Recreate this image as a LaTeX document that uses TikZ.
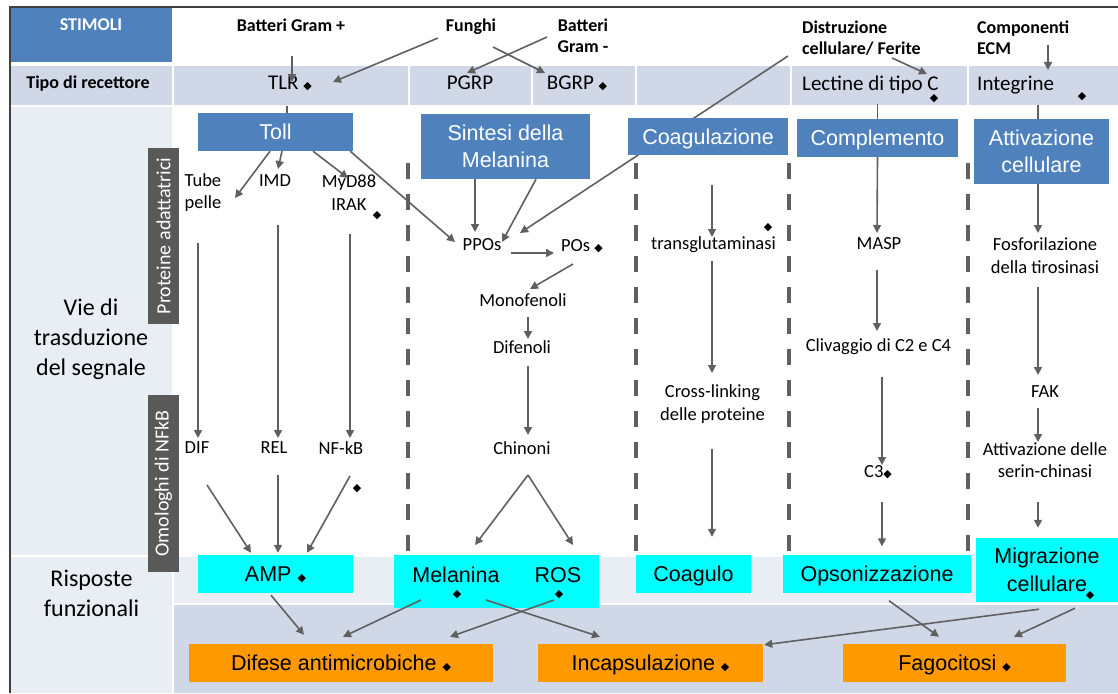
\documentclass[tikz,border=0pt]{standalone}
\usepackage{fontspec}
\setmainfont{Carlito}
\newfontfamily\boxfont{Liberation Sans}
\newfontfamily\dvfont{DejaVu Sans}
\usepackage{tikz}
\usetikzlibrary{arrows.meta}
\definecolor{hdrblue}{HTML}{4F81BD}
\definecolor{rowgrey}{HTML}{D0D8E8}
\definecolor{rowlight}{HTML}{E9EDF4}
\definecolor{respcyan}{HTML}{00FFFF}
\definecolor{effor}{HTML}{FF9900}
\definecolor{labgrey}{HTML}{595959}
\definecolor{arrgrey}{HTML}{606060}
\newcommand{\dm}{{\dvfont\fontsize{11}{11}\selectfont ◆}}

\begin{document}
\begin{tikzpicture}[x=1pt, y=-1pt,
  txt/.style={font=\fontsize{18.5}{22.5}\selectfont, inner sep=1pt, align=center},
  hd/.style={font=\bfseries\fontsize{18}{21}\selectfont, inner sep=1pt, align=center, text depth=0pt},
  rc/.style={font=\fontsize{21}{25}\selectfont, inner sep=1pt, text depth=0pt},
  side/.style={font=\fontsize{24}{30}\selectfont, inner sep=1pt, align=center},
  vlab/.style={fill=labgrey, text=white, rotate=90, font=\fontsize{20}{24}\selectfont, inner sep=0pt, minimum height=31pt},
  pw/.style={fill=hdrblue, text=white, font=\boxfont\fontsize{21.5}{27}\selectfont, align=center, inner sep=0pt, text depth=0pt},
  resp/.style={fill=respcyan, font=\boxfont\fontsize{21.5}{28}\selectfont, align=center, inner sep=0pt, minimum height=38pt, text depth=0pt},
  rtxt/.style={font=\boxfont\fontsize{21.5}{28}\selectfont, inner sep=1pt},
  eff/.style={fill=effor, font=\boxfont\fontsize{21.5}{26}\selectfont, inner sep=0pt, minimum height=38pt, text depth=0pt},
  dmk/.style={inner sep=0pt},
  ar/.style={draw=arrgrey, line width=1.6pt, -{Triangle[length=8pt,width=8pt]}},
  ln/.style={draw=arrgrey, line width=1.6pt},
  sep/.style={draw=arrgrey, line width=4pt, dash pattern=on 16pt off 15pt}
]
\useasboundingbox (0,0) rectangle (1118,693);
% table
\fill[hdrblue] (11,8) rectangle (172,62);
\foreach \xa/\xb in {11/172, 173.5/408, 409.5/530.5, 532.5/634.5, 636.5/790, 791.5/966.5, 968.5/1118}
  \fill[rowgrey] (\xa,65.5) rectangle (\xb,104.5);
\fill[rowlight] (11,106.5) rectangle (172,555);
\fill[rowlight] (11,557) rectangle (172,693);
\fill[rowlight] (174,557) rectangle (1118,603);
\fill[rowgrey] (174,605) rectangle (1118,693);
\draw[black!75, line width=2pt] (1118,7) -- (9.5,7) -- (9.5,693);
\foreach \sx in {408, 636, 789, 968}
  \draw[sep] (\sx,163) -- (\sx,555);

\node[hd, text=white] (stim) at (91,25) {STIMOLI};
\node[hd] (gpos) at (291,25) {Batteri Gram +};
\node[hd] (fung) at (471,25) {Funghi};
\node[hd] (gneg) at (583,35.5) {Batteri\\Gram -};
\node[hd, align=left, anchor=west] (dist) at (801,37.5) {Distruzione\\cellulare/ Ferite};
\node[hd, align=left, anchor=west] (comp) at (976,37.5) {Componenti\\ECM};

\node[hd] (rec) at (88,82) {Tipo di recettore};
\node[rc] (tlr) at (290,83) {TLR \dm};
\node[rc] (pgrp) at (470,83) {PGRP};
\node[rc] (bgrp) at (577,83) {BGRP \dm};
\node[rc, anchor=west] (lect) at (801,83) {Lectine di tipo C};
\node[rc, anchor=west] (integ) at (976,83) {Integrine};
\node[dmk] (dlect) at (934,99) {\dm};
\node[dmk] (dint) at (1082,97) {\dm};

\node[side] (vie) at (91,339) {Vie di\\trasduzione\\del segnale};
\node[side] (risp) at (91.5,593) {Risposte\\funzionali};
\node[vlab, minimum width=176pt] (adat) at (163.5,236) {Proteine adattatrici};
\node[vlab, minimum width=177pt] (omol) at (163.5,483.5) {Omologhi di NFkB};

\node[txt, align=left] (tube) at (203,192.5) {Tube\\pelle};
\node[txt] (imd) at (275,181) {IMD};
\node[txt] (myd) at (349,192.5) {MyD88\\IRAK};
\node[dmk] (dmyd) at (377,216) {\dm};
\node[txt] (dif) at (197,448) {DIF};
\node[txt] (rel) at (274,448) {REL};
\node[txt] (nfkb) at (341,448) {NF-kB};
\node[dmk] (dnf) at (357,489) {\dm};
\node[txt] (ppos) at (482,245) {PPOs};
\node[txt] (pos) at (582,246) {POs \dm};
\node[txt] (mono) at (523,300) {Monofenoli};
\node[txt] (dife) at (522,347) {Difenoli};
\node[txt] (chin) at (522,448) {Chinoni};
\node[txt] (trans) at (713.5,245) {transglutaminasi};
\node[dmk] (dtr) at (768,228) {\dm};
\node[txt] (cross) at (712.5,404) {Cross-linking\\delle proteine};
\node[txt] (masp) at (879,244) {MASP};
\node[txt] (cliv) at (878.5,347) {Clivaggio di C2 e C4};
\node[txt] (c3) at (878,472) {C3\dm};
\node[txt] (fosf) at (1045,255.5) {Fosforilazione\\della tirosinasi};
\node[txt] (fak) at (1045,392) {FAK};
\node[txt] (ser) at (1045,460) {Attivazione delle\\serin-chinasi};

\draw[ar] ([shift={(-13,18.5)}]dist.west) -- ([shift={(38,-12)}]ppos.center);

\node[pw, minimum width=155pt, minimum height=38pt] (toll) at (275.5,132) {Toll};
\node[pw, minimum width=169pt, minimum height=65pt] (sint) at (505.5,146.5) {Sintesi della\\Melanina};
\node[pw, minimum width=160pt, minimum height=37pt] (coag) at (708,136.5) {Coagulazione};
\node[pw, minimum width=161pt, minimum height=38pt] (compl) at (877.5,138) {Complemento};
\node[pw, minimum width=135pt, minimum height=65pt] (attiv) at (1041.5,151.5) {Attivazione\\cellulare};

\node[resp, minimum width=155pt] (amp) at (275.5,574) {AMP \dm};
\node[resp, minimum width=205pt, minimum height=53pt] (mros) at (496.5,581.5) {};
\node[rtxt] (mel) at (456,575) {Melanina};
\node[rtxt] (ros) at (558,575) {ROS};
\node[dmk] (dmel) at (457,595) {\dm};
\node[dmk] (dros) at (559,595) {\dm};
\node[resp, minimum width=115pt] (coagulo) at (693.5,574) {Coagulo};
\node[resp, minimum width=188pt] (opson) at (877,573.5) {Opsonizzazione};
\node[resp, minimum width=142pt, minimum height=64pt] (migr) at (1047,570) {Migrazione\\cellulare};
\node[dmk] (dmig) at (1090,596) {\dm};

\node[eff, minimum width=304pt] (difese) at (341,663) {Difese antimicrobiche \dm};
\node[eff, minimum width=225pt] (inc) at (650.5,663) {Incapsulazione \dm};
\node[eff, minimum width=223pt] (fag) at (954.5,663) {Fagocitosi \dm};

% stimoli -> recettori
\draw[ar] ([shift={(1,31)}]gpos.center) -- ([shift={(2,-1)}]tlr.center);
\draw[ar] ([shift={(-33,13)}]fung.center) -- ([shift={(43,-1)}]tlr.center);
\draw[ar] ([shift={(22,22)}]fung.center) -- ([shift={(-32,-10)}]bgrp.center);
\draw[ar] ([shift={(-36,1.5)}]gneg.center) -- ([shift={(-3,-10)}]pgrp.center);
\draw[ar] ([shift={(91,20.5)}]dist.west) -- ([shift={(126,-9)}]lect.west);
\draw[ar] ([shift={(72,7.5)}]comp.west) -- ([shift={(72,-13)}]integ.west);
\draw[ln] ([shift={(-3,23)}]tlr.center) -- ([xshift=11.5pt]toll.north);
\draw[ln] ([shift={(76.5,21)}]lect.west) -- (compl.north);
\draw[ln] ([shift={(62,22)}]integ.west) -- ([xshift=-3.5pt]attiv.north);

% Toll
\draw[ar] ([xshift=-5.5pt]toll.south) -- ([shift={(32,5.5)}]tube.center);
\draw[ar] ([xshift=6.5pt]toll.south) -- ([shift={(3,-12)}]imd.center);
\draw[ar] ([xshift=37.5pt]toll.south) -- ([shift={(-1,-14.5)}]myd.center);
\draw[ar] ([xshift=-3pt]toll.south east) -- ([shift={(-27,-3)}]ppos.center);
\draw[ar] ([shift={(-5,50.5)}]tube.center) -- ([shift={(1,-10)}]dif.center);
\draw[ar] ([shift={(3,44)}]imd.center) -- ([shift={(4,-10)}]rel.center);
\draw[ar] ([shift={(1,41.5)}]myd.center) -- ([shift={(9,-10)}]nfkb.center);
\draw[ar] ([shift={(10,37)}]dif.center) -- ([shift={(-24.5,-2)}]amp.north);
\draw[ar] ([shift={(4,27)}]rel.center) -- ([shift={(2.5,-2)}]amp.north);
\draw[ar] ([shift={(9,28)}]nfkb.center) -- ([shift={(31.5,-2)}]amp.north);

% melanina
\draw[ar] ([xshift=-30.5pt]sint.south) -- ([shift={(-7,-13)}]ppos.center);
\draw[ar] ([xshift=30.5pt]sint.south) -- ([shift={(20,-3)}]ppos.center);
\draw[ar] ([shift={(29,8)}]ppos.center) -- ([shift={(-28,7)}]pos.center);
\draw[ar] ([shift={(-9,18)}]pos.center) -- ([shift={(7,-11)}]mono.center);
\draw[ar] ([shift={(5,17)}]mono.center) -- ([shift={(6,-8)}]dife.center);
\draw[ar] ([shift={(6,19)}]dife.center) -- ([shift={(6,-13)}]chin.center);
\draw[ar] ([shift={(6,27)}]chin.center) -- ([shift={(19,-30)}]mel.center);
\draw[ar] ([shift={(6,27)}]chin.center) -- ([shift={(15,-30)}]ros.center);

% coagulazione
\draw[ar] ([shift={(4,30)}]coag.south) -- ([shift={(-1.5,-8)}]trans.center);
\draw[ar] ([shift={(-1.5,16)}]trans.center) -- ([shift={(-0.5,-31)}]cross.center);
\draw[ar] ([shift={(-0.5,45)}]cross.center) -- ([shift={(18.5,-18)}]coagulo.north);

% complemento
\draw[ar] (compl.south) -- ([shift={(-2,-11)}]masp.center);
\draw[ar] ([shift={(-2,26)}]masp.center) -- ([shift={(-1.5,-16)}]cliv.center);
\draw[ar] ([shift={(3.5,30)}]cliv.center) -- ([shift={(4,-7)}]c3.center);
\draw[ar] ([shift={(4,30)}]c3.center) -- ([shift={(5,-8)}]opson.north);

% attivazione cellulare
\draw[ar] ([xshift=-3.5pt]attiv.south) -- ([shift={(-7,-22.5)}]fosf.center);
\draw[ar] ([shift={(-7,31.5)}]fosf.center) -- ([shift={(-7,-17)}]fak.center);
\draw[ar] ([shift={(-7,16)}]fak.center) -- ([shift={(-7,-18)}]ser.center);
\draw[ar] ([shift={(-7,42)}]ser.center) -- ([shift={(-9,-10)}]migr.north);

% risposte -> effetti
\draw[ar] ([shift={(-4.5,2)}]amp.south) -- ([shift={(-37,-9)}]difese.north);
\draw[ar] ([shift={(-35,25)}]mel.center) -- ([shift={(2,-7)}]difese.north);
\draw[ar] ([shift={(-4,25)}]ros.center) -- ([shift={(109,-7)}]difese.north);
\draw[ar] ([shift={(30,25)}]mel.center) -- ([shift={(-50.5,-7)}]inc.north);
\draw[ar] ([shift={(-8,7)}]migr.south) -- ([shift={(1,1)}]inc.north east);
\draw[ar] ([shift={(12,8)}]opson.south) -- ([shift={(-15.5,-7)}]fag.north);
\draw[ar] ([shift={(28,6)}]migr.south) -- ([shift={(59.5,-7)}]fag.north);
\end{tikzpicture}
\end{document}
